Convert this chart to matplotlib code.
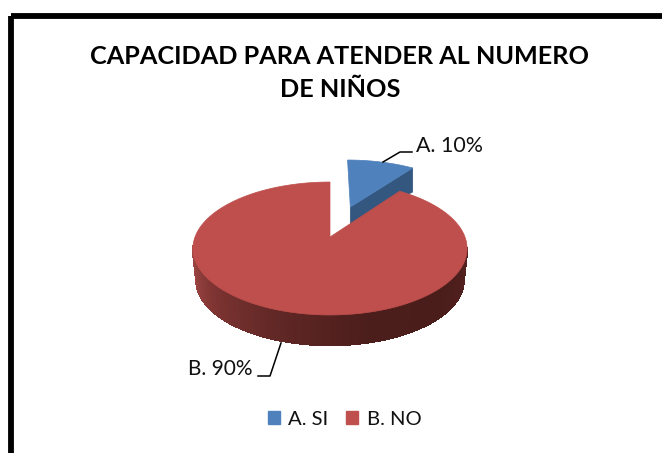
import numpy as np
import matplotlib
matplotlib.use("Agg")
from matplotlib import pyplot as plt
from matplotlib.patches import Patch, Polygon, Rectangle
from matplotlib.collections import PolyCollection
from matplotlib.colors import LinearSegmentedColormap

categories = ["A. SI", "B. NO"]
values = [10, 90]
colors = ["#4F81BD", "#C0504D"]
title = "CAPACIDAD PARA ATENDER AL NUMERO\nDE NIÑOS"

plt.rcParams['font.family'] = ['Lato', 'DejaVu Sans']

# pie geometry, in pixels of the picture
CX, CY = 330, 237
RX = 135
A, K = 64.5, 0.173  # perspective of the tilted disc
EXPLODE = 0.53


def project(u, v, scale=1.0, dy=0.0):
    w = 1 + K * v
    return CX + scale * RX * u / w, CY + dy - scale * A * v / w


def sector(t0, t1, shift=(0, 0), n=120):
    # t is clockwise from 12 o'clock, in degrees
    t = np.radians(np.linspace(t0, t1, n))
    u = np.r_[0, np.sin(t), 0] + shift[0]
    v = np.r_[0, np.cos(t), 0] + shift[1]
    return np.column_stack(project(u, v))


fig = plt.figure(figsize=(6.62, 4.53), dpi=100)
ax = fig.add_axes([0, 0, 1, 1])
ax.set_xlim(0, 662)
ax.set_ylim(453, 0)
ax.axis("off")

# outer frame, runs off the right and bottom of the picture
ax.add_patch(Rectangle((11, 15.5), 800, 600, fill=False, ec="black", lw=4.2))

ax.text(340, 73, title, ha="center", va="center", fontsize=18.2,
        fontweight="bold", color="black", linespacing=1.55)

angle = 360 * values[0] / sum(values)

# blue slice, pulled out of the pie
mid = np.radians(angle / 2)
shift = (EXPLODE * np.sin(mid), EXPLODE * np.cos(mid))
top = sector(0, angle, shift)
corner = top[-2]
apex = top[0]
ax.add_patch(Polygon([apex, corner, corner + [0, 24], apex + [0, 17]],
                     fc="#34577F", ec="#34577F", lw=0.5))
ax.add_patch(Polygon(top, fc=colors[0], ec=colors[0], lw=0.5))

# red slice: side wall first, as thin strips
side = LinearSegmentedColormap.from_list(
    "side", ["#A84C49", "#7D3432", "#5F2725", "#4B1D1B", "#4A1D1B", "#53211F"])
t = np.radians(np.linspace(262, 100, 160))
strips = []
for i in range(len(t) - 1):
    u = np.sin(t[i:i + 2])
    v = np.cos(t[i:i + 2])
    x0, y0 = project(u, v)
    x1, y1 = project(u, v, 0.975, 32)
    strips.append([(x0[0], y0[0]), (x0[1], y0[1]), (x1[1], y1[1]), (x1[0], y1[0])])
shades = side(np.linspace(0, 1, len(strips)))
ax.add_collection(PolyCollection(strips, facecolors=shades, edgecolors=shades,
                                 linewidths=1, antialiaseds=False))
ax.add_patch(Polygon(sector(angle, 360), fc="#BE4F4C", ec="#BE4F4C", lw=0.5))

# data labels with their leader lines
labels = [f"{c[:2]} {p}%" for c, p in zip(categories, values)]
ax.plot([383, 400, 412], [162, 152, 152], color="black", lw=1.1)
ax.text(416, 145.5, labels[0], ha="left", va="center", fontsize=15.4, color="#111111")
ax.plot([281, 270, 258], [343, 376, 376], color="black", lw=1.1)
ax.text(253, 369, labels[1], ha="right", va="center", fontsize=15, color="#111111")

handles = [Patch(fc=c, ec=c) for c in colors]
ax.legend(handles, categories, ncol=2, frameon=False, loc="center",
          bbox_to_anchor=(344.5, 419.5), bbox_transform=ax.transData,
          fontsize=14.6, handlelength=0.62, handleheight=0.62,
          handletextpad=0.4, columnspacing=0.85, labelcolor="#111111")

plt.savefig("out.png", dpi=100)
